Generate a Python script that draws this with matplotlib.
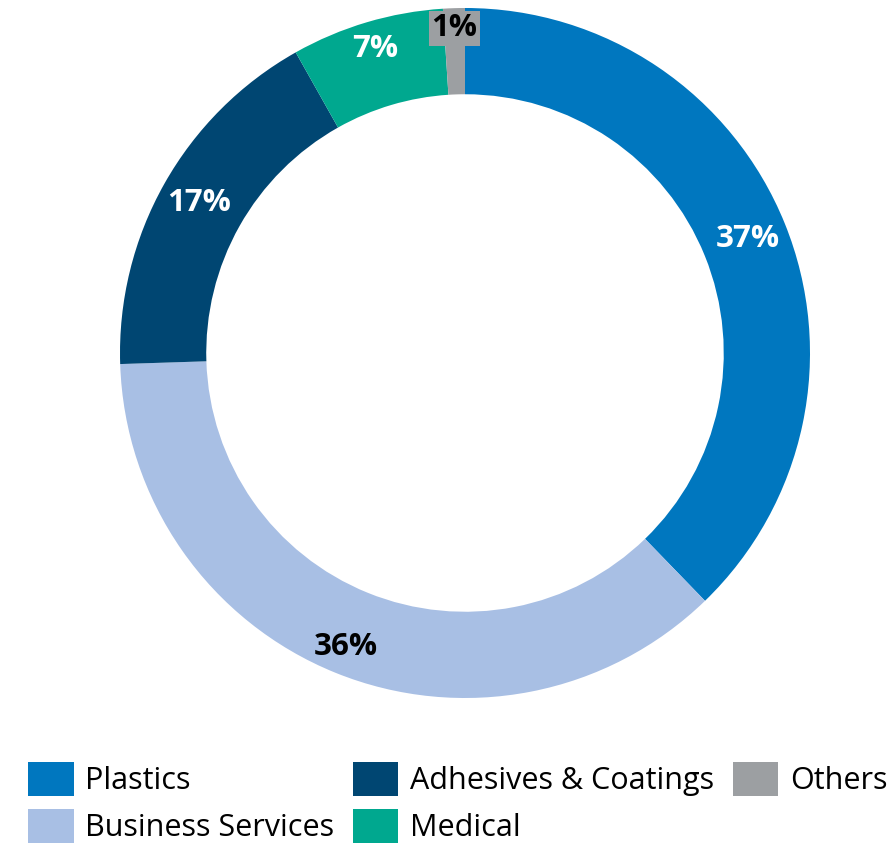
import numpy as np
import matplotlib.pyplot as plt

plt.rcParams['font.family'] = ['Open Sans', 'DejaVu Sans']

# segment shares (%)
labels = ["Plastics", "Business Services", "Adhesives & Coatings", "Medical", "Others"]
shares = [37, 36, 17, 7, 1]
colors = ["#0077BF", "#A8BFE4", "#004672", "#00A88F", "#9C9FA2"]
text_colors = ["white", "black", "white", "white", "black"]
label_r = [0.884, 0.918, 0.885, 0.92, 0.942]

fig = plt.figure(figsize=(8.94, 8.43), dpi=100)

# donut axes, centre at (465, 353) px, radius 345 px
W, H = 894, 843
cx, cy, r = 465, 353, 345
ax = fig.add_axes([(cx - r) / W, (H - cy - r) / H, 2 * r / W, 2 * r / H])

wedges, _ = ax.pie(shares, colors=colors, startangle=90, counterclock=False,
                   radius=1, wedgeprops=dict(width=0.25, linewidth=0))
ax.set_xlim(-1, 1)
ax.set_ylim(-1, 1)
ax.set_aspect("equal")
ax.axis("off")

# percentage labels inside the ring
for w, val, tc, rr in zip(wedges, shares, text_colors, label_r):
    ang = np.deg2rad((w.theta1 + w.theta2) / 2)
    box = None
    if val == 1:
        box = dict(boxstyle="square,pad=0.08", fc=colors[-1], ec="none")
    ax.text(rr * np.cos(ang), rr * np.sin(ang), f"{val}%", ha="center", va="center",
            fontsize=22.5, fontweight="bold", color=tc, bbox=box)

fig.legend(wedges, labels, loc="upper left", bbox_to_anchor=(0.031, 0.096),
           ncol=3, frameon=False, fontsize=22, handlelength=1.5, handleheight=1.33,
           handletextpad=0.38, columnspacing=0.6, labelspacing=0.42,
           borderaxespad=0, borderpad=0)

fig.savefig("out.png", dpi=100)
